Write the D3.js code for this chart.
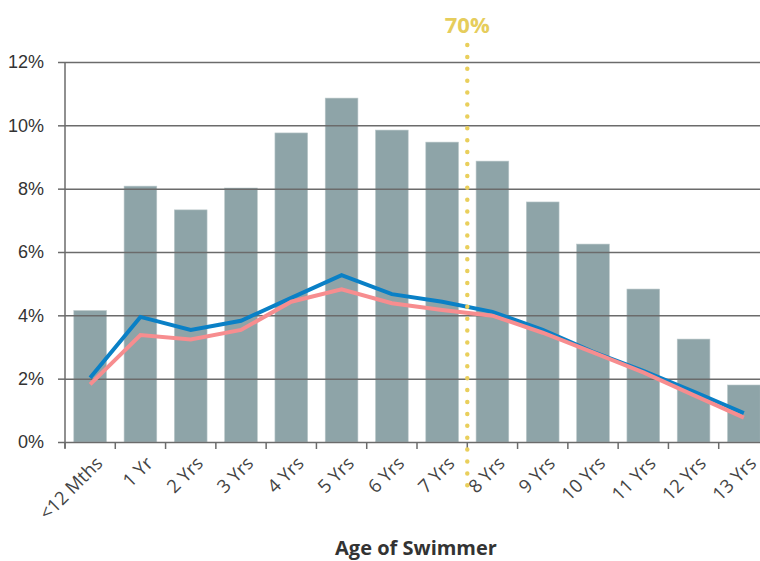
<!DOCTYPE html>
<html>
<head>
<meta charset="utf-8">
<title>Age of Swimmer</title>
<script src="https://cdn.jsdelivr.net/npm/d3@7"></script>
<style>
  body { margin: 0; background: #fff; }
  svg { display: block; font-family: "Open Sans", "DejaVu Sans", sans-serif; }
</style>
</head>
<body>
<script>
// categories and series
var ages = ["<12 Mths", "1 Yr", "2 Yrs", "3 Yrs", "4 Yrs", "5 Yrs", "6 Yrs",
            "7 Yrs", "8 Yrs", "9 Yrs", "10 Yrs", "11 Yrs", "12 Yrs", "13 Yrs"];
var barValues  = [4.15, 8.08, 7.33, 8.02, 9.76, 10.86, 9.85, 9.47, 8.87, 7.58, 6.25, 4.83, 3.25, 1.80];
var blueValues = [2.03, 3.95, 3.54, 3.83, 4.55, 5.27, 4.67, 4.43, 4.11, 3.54, 2.85, 2.25, 1.59, 0.91];
var pinkValues = [1.82, 3.38, 3.24, 3.54, 4.43, 4.82, 4.38, 4.17, 3.99, 3.45, 2.83, 2.20, 1.48, 0.77];
var yTicks = [0, 2, 4, 6, 8, 10, 12];
var markerAfter = "7 Yrs";   // dotted line sits between 7 Yrs and 8 Yrs
var markerLabel = "70%";
var xTitle = "Age of Swimmer";

var width = 760, height = 561;
var margins = { left: 65, top: 62, right: -9, bottom: 119 };

var svg = d3.select("body").append("svg")
    .attr("width", width)
    .attr("height", height);

var x = d3.scaleBand()
    .domain(ages)
    .range([margins.left, width - margins.right])
    .paddingInner(0.35)
    .paddingOuter(0.175);

// band boundaries for ticks
var xEdge = d3.scaleBand().domain(ages).range(x.range());

var y = d3.scaleLinear()
    .domain([0, 12])
    .range([height - margins.bottom, margins.top]);

var gridColor = "#6b6b6b";

// bars
svg.append("g").selectAll("rect")
    .data(barValues)
    .enter().append("rect")
    .attr("x", function (d, i) { return x(ages[i]); })
    .attr("width", x.bandwidth())
    .attr("y", function (d) { return y(d); })
    .attr("height", function (d) { return y(0) - y(d); })
    .attr("fill", "#8ea4a8")
    .attr("stroke", "#b9c7c9")
    .attr("stroke-width", 0.6);

// horizontal grid + y axis ticks
var yAxis = d3.axisLeft(y)
    .tickValues(yTicks)
    .tickFormat(function (d) { return d + "%"; })
    .tickSize(7)
    .tickPadding(14);

var gy = svg.append("g")
    .attr("transform", "translate(" + margins.left + ",0)")
    .call(yAxis);
gy.select(".domain").attr("stroke", gridColor).attr("stroke-width", 1.5)
    .attr("d", "M0," + y(12) + "V" + (y(0) + 6));
gy.selectAll(".tick line").attr("stroke", gridColor).attr("stroke-width", 1.5);
gy.selectAll(".tick")
    .append("line")
    .attr("x1", 0).attr("x2", width)
    .attr("stroke", gridColor).attr("stroke-width", 1.5);
gy.selectAll(".tick text")
    .attr("fill", "#333")
    .style("font-size", "18px");

// x axis with ticks at band edges
var gx = svg.append("g")
    .attr("transform", "translate(0," + y(0) + ")");
gx.selectAll("line.tk")
    .data(ages)
    .enter().append("line")
    .attr("class", "tk")
    .attr("x1", function (d) { return xEdge(d); })
    .attr("x2", function (d) { return xEdge(d); })
    .attr("y1", 0).attr("y2", 7)
    .attr("stroke", gridColor).attr("stroke-width", 1.5);

gx.selectAll("text")
    .data(ages)
    .enter().append("text")
    .attr("transform", function (d) {
        return "translate(" + (x(d) + x.bandwidth() / 2 + 9) + ",18) rotate(-45)";
    })
    .attr("text-anchor", "end")
    .attr("dy", "0.35em")
    .attr("fill", "#444")
    .style("font-size", "18.5px")
    .text(function (d) { return d; });

// lines
var line = d3.line()
    .x(function (d, i) { return x(ages[i]) + x.bandwidth() / 2; })
    .y(function (d) { return y(d); });

svg.append("path")
    .datum(blueValues)
    .attr("d", line)
    .attr("fill", "none")
    .attr("stroke", "#0a80c6")
    .attr("stroke-width", 4);

svg.append("path")
    .datum(pinkValues)
    .attr("d", line)
    .attr("fill", "none")
    .attr("stroke", "#f78d8f")
    .attr("stroke-width", 4);

// dotted marker line
var mx = xEdge(markerAfter) + xEdge.bandwidth();
svg.append("line")
    .attr("x1", mx).attr("x2", mx)
    .attr("y1", 45).attr("y2", 497)
    .attr("stroke", "#e9cf5c")
    .attr("stroke-width", 4.5)
    .attr("stroke-linecap", "round")
    .attr("stroke-dasharray", "0 11.9");

svg.append("text")
    .attr("x", mx)
    .attr("y", 33)
    .attr("text-anchor", "middle")
    .attr("fill", "#e6cd5c")
    .style("font-size", "22px")
    .style("font-weight", "bold")
    .text(markerLabel);

// axis title
svg.append("text")
    .attr("x", 416)
    .attr("y", 555)
    .attr("text-anchor", "middle")
    .attr("fill", "#333")
    .style("font-size", "20px")
    .style("font-weight", "bold")
    .text(xTitle);
</script>
</body>
</html>
